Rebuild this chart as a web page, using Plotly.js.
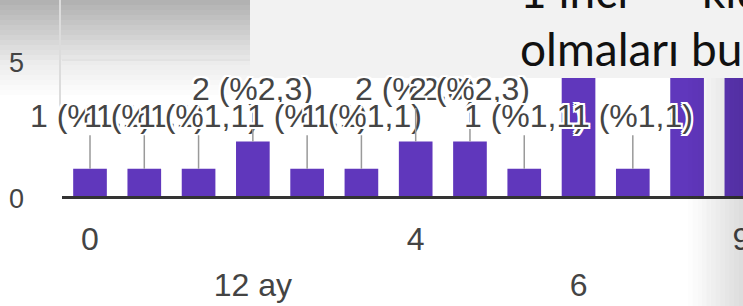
<!DOCTYPE html>
<html><head><meta charset="utf-8">
<script src="https://cdn.plot.ly/plotly-3.0.1.min.js"></script>
<style>html,body{margin:0;padding:0;background:#fff;overflow:hidden}</style>
</head><body><div id="chart" style="width:743px;height:306px"></div>
<script>
// ---- data ----
const categories = ["0","1","10","12 ay","2","3","4","5","5 ay","6","7","8","9"];
const counts     = [1, 1, 1, 2, 1, 1, 2, 2, 1, 9, 1, 7, 8];
const percents   = ["1,1","1,1","1,1","2,3","1,1","1,1","2,3","2,3","1,1","10,3","1,1","8","9,2"];
const row1Ticks  = ["0","4","9"];
const row2Ticks  = ["12 ay","6"];
const yTicks     = [0, 5];
const headerLine1 = "1 inci  –  kıdem";
const headerLine2 = "olmaları bu";

// ---- geometry helpers (pixel -> paper) ----
const W = 743, H = 306, L = 62, R = 743, T = 0, B = 196;
const px = x => (x - L) / (R - L);
const py = y => (B - y) / (B - T);
function lerp(a, b, t) { return Math.round(a + (b - a) * t); }
function vGrad(x0, x1, y0, y1, c0, c1, n, layer) {
  const out = [];
  for (let i = 0; i < n; i++) {
    const t = i / (n - 1);
    const ya = y0 + (y1 - y0) * i / n, yb = y0 + (y1 - y0) * (i + 1) / n;
    const g = lerp(c0, c1, t);
    out.push({type:'rect', xref:'paper', yref:'paper', x0:px(x0), x1:px(x1), y0:py(yb), y1:py(ya),
      fillcolor:`rgb(${g},${g},${g})`, line:{width:0}, layer:layer});
  }
  return out;
}
function hGradAlpha(x0, x1, y0, y1, a0, a1, n) {
  const out = [];
  for (let i = 0; i < n; i++) {
    const xa = x0 + (x1 - x0) * i / n, xb = x0 + (x1 - x0) * (i + 1) / n;
    const a = a0 + (a1 - a0) * (i + 0.5) / n;
    out.push({type:'rect', xref:'paper', yref:'paper', x0:px(xa), x1:px(xb), y0:py(y1), y1:py(y0),
      fillcolor:`rgba(0,0,0,${a.toFixed(3)})`, line:{width:0}, layer:'above'});
  }
  return out;
}

const shapes = [];
shapes.push(...vGrad(0, 250, 0, 60, 178, 230, 12, 'below'));
shapes.push(...vGrad(0, 250, 60, 100, 236, 255, 8, 'below'));
shapes.push({type:'line', xref:'paper', yref:'paper', x0:px(60), x1:px(60), y0:py(131), y1:py(0),
  line:{color:'#dcdcdc', width:2}, layer:'below'});
shapes.push({type:'rect', xref:'paper', yref:'paper', x0:px(250), x1:px(743), y0:py(78), y1:py(0),
  fillcolor:'#f2f2f2', line:{width:0}, layer:'above'});
shapes.push(...hGradAlpha(688, 743, 78, 306, 0, 0.14, 12));

const labelFont = {family:'Liberation Sans, Arial, sans-serif', size:32, color:'#454545',
  shadow:'2px 0 0 #fff, -2px 0 0 #fff, 0 2px 0 #fff, 0 -2px 0 #fff, 2px 2px 0 #fff, -2px -2px 0 #fff, 2px -2px 0 #fff, -2px 2px 0 #fff'};

const annotations = [];
categories.forEach((c, i) => {
  if (counts[i] < 4) {
    annotations.push({x:i, y:counts[i], xref:'x', yref:'y',
      text:`${counts[i]} (%${percents[i]})`, showarrow:true, arrowhead:0, arrowwidth:1.5,
      arrowcolor:'#9a9a9a', ax:0, ay:-53, standoff:0, font:labelFont});
  }
});
const headFont = {family:'Lato, sans-serif', size:46, color:'#111'};
annotations.push({xref:'paper', yref:'paper', x:px(518), y:py(-39), xanchor:'left', yanchor:'top',
  text:headerLine1, showarrow:false, font:headFont});
annotations.push({xref:'paper', yref:'paper', x:px(518), y:py(19), xanchor:'left', yanchor:'top',
  text:headerLine2, showarrow:false, font:headFont});

const xr = [-0.516, 12.03];
const tickFontX = {family:'Liberation Sans, Arial, sans-serif', size:32, color:'#444'};

const traces = [
  {type:'bar', x:categories, y:counts, xaxis:'x', yaxis:'y',
   marker:{color:'#6037bc'}, hoverinfo:'skip', showlegend:false},
  {type:'scatter', mode:'markers', x:categories, y:counts, xaxis:'x2', yaxis:'y',
   marker:{opacity:0}, hoverinfo:'skip', showlegend:false}
];

const layout = {
  width:W, height:H,
  margin:{l:L, r:W - R, t:T, b:H - B, pad:0},
  paper_bgcolor:'#ffffff', plot_bgcolor:'rgba(0,0,0,0)',
  bargap:0.38, showlegend:false,
  xaxis:{type:'category', categoryorder:'array', categoryarray:categories, range:xr,
    tickmode:'array', tickvals:row1Ticks, ticktext:row1Ticks, ticks:'', showgrid:false,
    showline:true, linecolor:'#333', linewidth:2.5, zeroline:false,
    tickfont:tickFontX, ticklabelstandoff:13, fixedrange:true},
  xaxis2:{type:'category', categoryorder:'array', categoryarray:categories, range:xr,
    overlaying:'x', anchor:'y', side:'bottom',
    tickmode:'array', tickvals:row2Ticks, ticktext:row2Ticks, ticks:'', showgrid:false,
    showline:false, zeroline:false, tickfont:tickFontX, ticklabelstandoff:67, fixedrange:true},
  yaxis:{range:[0, (B - T) / 27.2], tickmode:'array', tickvals:yTicks, ticks:'',
    showgrid:true, gridcolor:'#e2e2e2', gridwidth:1.5, zeroline:false, showline:false,
    tickfont:{family:'Liberation Sans, Arial, sans-serif', size:27, color:'#444'},
    ticklabelstandoff:37, ticklabelshift:3, fixedrange:true},
  shapes:shapes,
  annotations:annotations
};
Plotly.newPlot('chart', traces, layout, {displayModeBar:false, staticPlot:true});
</script></body></html>
